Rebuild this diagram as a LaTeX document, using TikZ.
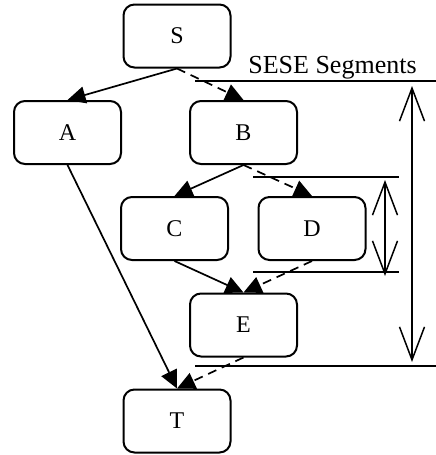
\documentclass[tikz,border=0pt]{standalone}
\usepackage{fontspec}
\setmainfont{Liberation Serif}
\usetikzlibrary{arrows.meta}
\begin{document}
\begin{tikzpicture}[x=1pt,y=-1pt,
  box/.style={draw, line width=2pt, rounded corners=11pt, minimum width=107pt, minimum height=63pt, inner sep=0pt, font=\fontsize{24}{28}\selectfont},
  edge/.style={line width=1.7pt, -{Triangle[length=18pt,width=17pt]}},
  dashededge/.style={edge, dash pattern=on 9pt off 6pt},
  bar/.style={line width=1.5pt},
  span/.style={line width=1.5pt, {Straight Barb[length=33pt,width=25pt,line width=1.5pt]}-{Straight Barb[length=33pt,width=25pt,line width=1.5pt]}}
]
\useasboundingbox (0,0) rectangle (436,455);
\node[box] (S) at (177,36) {S};
\node[box] (A) at (67.5,132.5) {A};
\node[box] (B) at (243.5,132.5) {B};
\node[box] (C) at (174.5,228.5) {C};
\node[box] (D) at (312,228.5) {D};
\node[box] (E) at (243.5,325) {E};
\node[box] (T) at (177,421) {T};

\draw[edge] (S.south) -- (A.north);
\draw[dashededge] (S.south) -- (B.north);
\draw[edge] (B.south) -- (C.north);
\draw[dashededge] (B.south) -- (D.north);
\draw[edge] (C.south) -- (E.north);
\draw[dashededge] (D.south) -- (E.north);
\draw[edge] (A.south) -- (T.north);
\draw[dashededge] (E.south) -- (T.north);

\node[anchor=base, inner sep=0pt, font=\fontsize{26}{30}\selectfont] (lbl) at (332.5,73) {SESE Segments};

\coordinate (t1) at (195,81);
\coordinate (t2) at (436,81);
\coordinate (m1) at (253,177);
\coordinate (m2) at (399,177);
\coordinate (n1) at (253,272);
\coordinate (n2) at (399,272);
\coordinate (b1) at (195,366);
\coordinate (b2) at (436,366);
\draw[bar] (t1) -- (t2);
\draw[bar] (m1) -- (m2);
\draw[bar] (n1) -- (n2);
\draw[bar] (b1) -- (b2);

\coordinate (bigtop) at (412,86);
\coordinate (bigbot) at (412,362);
\coordinate (smtop) at (385,180);
\coordinate (smbot) at (385,276);
\draw[span] (bigtop) -- (bigbot);
\draw[span] (smtop) -- (smbot);
\end{tikzpicture}
\end{document}
